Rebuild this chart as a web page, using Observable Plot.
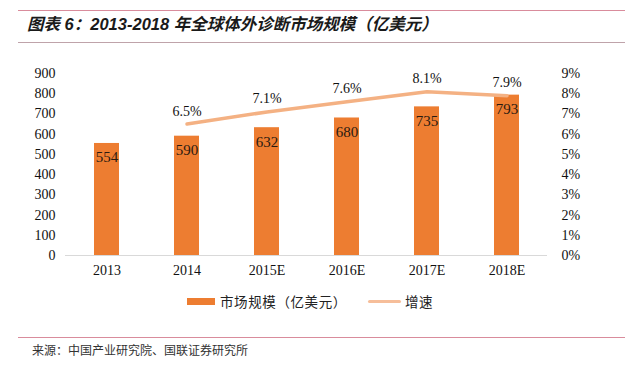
<!DOCTYPE html>
<html>
<head>
<meta charset="utf-8">
<script src="https://cdn.jsdelivr.net/npm/d3@7"></script>
<script src="https://cdn.jsdelivr.net/npm/@observablehq/plot@0.6"></script>
<style>
  html, body { margin: 0; padding: 0; background: #fff; width: 640px; height: 370px; overflow: hidden; position: relative; }
  .rule { position: absolute; left: 18px; width: 607px; height: 0; }
  #title { position: absolute; left: 27px; top: 11px; font-family: "Liberation Sans", "Noto Sans CJK SC", sans-serif; font-weight: bold; font-style: italic; font-size: 16.5px; letter-spacing: 0px; color: #1a1a1a; white-space: nowrap; }
  #chart { position: absolute; left: 0; top: 50px; }
  #legend { position: absolute; top: 291px; left: 187px; font-family: "Noto Sans CJK SC", sans-serif; font-size: 13.5px; letter-spacing: 0.6px; color: #222; white-space: nowrap; display: flex; align-items: center; }
  .sw-bar { display: inline-block; width: 28px; height: 7px; background: #ED7D31; margin-right: 5px; }
  .sw-line { display: inline-block; width: 33px; height: 3px; background: #F6BE9A; margin-right: 4px; margin-left: 21px; border-radius: 2px; }
  #source { position: absolute; left: 32px; top: 341px; font-family: "Noto Sans CJK SC", sans-serif; font-size: 12px; color: #333; white-space: nowrap; }
</style>
</head>
<body>
<div class="rule" style="top:10px; border-top:1px solid #d98c9c;"></div>
<div id="title">图表 6：2013-2018 年全球体外诊断市场规模（亿美元）</div>
<div class="rule" style="top:42px; border-top:1px solid #bfa3aa;"></div>
<div id="chart"></div>
<div id="legend"><span class="sw-bar"></span><span>市场规模（亿美元）</span><span class="sw-line"></span><span>增速</span></div>
<div class="rule" style="top:337px; border-top:1px solid #d98c9c;"></div>
<div id="source">来源：中国产业研究院、国联证券研究所</div>
<script>
const categories = ["2013", "2014", "2015E", "2016E", "2017E", "2018E"];
const marketSize = [554, 590, 632, 680, 735, 793];
const growthCategories = ["2014", "2015E", "2016E", "2017E", "2018E"];
const growthRate = [6.5, 7.1, 7.6, 8.1, 7.9];
const leftTicks = [0, 100, 200, 300, 400, 500, 600, 700, 800, 900];
const rightTickLabels = ["0%", "1%", "2%", "3%", "4%", "5%", "6%", "7%", "8%", "9%"];

const bars = categories.map((c, i) => ({cat: c, value: marketSize[i]}));
// growth plotted on the left scale: 9% <-> 900
const growth = growthCategories.map((c, i) => ({cat: c, rate: growthRate[i], yv: growthRate[i] * 100}));

const chart = Plot.plot({
  width: 640,
  height: 235,
  marginTop: 23,
  marginBottom: 30,
  marginLeft: 65,
  marginRight: 93,
  style: {fontFamily: "'Liberation Serif', 'Times New Roman', serif", fontSize: "14px", color: "#111", background: "transparent"},
  x: {domain: categories, paddingInner: 0.69, paddingOuter: 0.345, axis: null},
  y: {domain: [0, 900], axis: null},
  marks: [
    Plot.barY(bars, {x: "cat", y: "value", fill: "#ED7D31"}),
    Plot.ruleY([0], {stroke: "#d9d9d9", strokeWidth: 1}),
    Plot.line(growth, {x: "cat", y: "yv", stroke: "#F4B183", strokeWidth: 3.5, strokeLinecap: "round", strokeLinejoin: "round"}),
    Plot.text(bars, {x: "cat", y: "value", text: d => String(d.value), dy: 14, fill: "#2a1a10", fontSize: 15}),
    Plot.text(growth, {x: "cat", y: "yv", text: d => d.rate.toFixed(1) + "%", dy: -13, fill: "#111", fontSize: 14}),
    Plot.axisY(leftTicks, {anchor: "left", tickSize: 0, tickPadding: 10, label: null, fontSize: 14}),
    Plot.axisY(leftTicks, {anchor: "right", tickSize: 0, tickPadding: 14, label: null, fontSize: 14,
      tickFormat: d => rightTickLabels[leftTicks.indexOf(d)]}),
    Plot.axisX(categories, {anchor: "bottom", tickSize: 0, tickPadding: 10, label: null, fontSize: 14})
  ]
});
document.getElementById("chart").appendChild(chart);
</script>
</body>
</html>
